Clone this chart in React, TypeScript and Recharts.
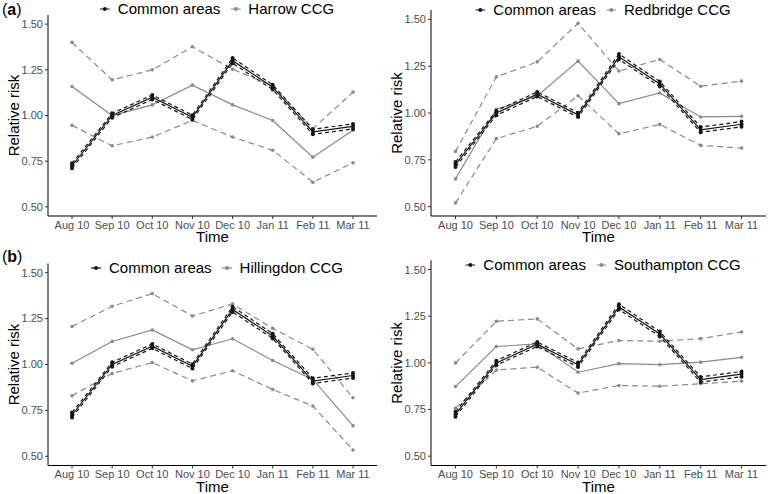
import { LineChart, Line, XAxis, YAxis } from 'recharts';

const months = ['Aug 10', 'Sep 10', 'Oct 10', 'Nov 10', 'Dec 10', 'Jan 11', 'Feb 11', 'Mar 11'];
const yTicks = [0.5, 0.75, 1.0, 1.25, 1.5];

// common areas (same in every panel)
const commonEst = [0.725, 1.0, 1.1, 0.99, 1.3, 1.155, 0.91, 0.94];
const commonUpper = [0.738, 1.012, 1.112, 1.002, 1.315, 1.168, 0.925, 0.954];
const commonLower = [0.712, 0.988, 1.088, 0.978, 1.286, 1.142, 0.897, 0.926];

const harrowEst = [1.159, 1.0, 1.058, 1.166, 1.058, 0.973, 0.772, 0.919];
const harrowUpper = [1.4, 1.195, 1.25, 1.376, 1.253, 1.163, 0.928, 1.128];
const harrowLower = [0.946, 0.834, 0.882, 0.973, 0.882, 0.81, 0.635, 0.741];

const redbridgeEst = [0.648, 1.02, 1.091, 1.277, 1.05, 1.107, 0.979, 0.982];
const redbridgeUpper = [0.795, 1.193, 1.273, 1.479, 1.224, 1.286, 1.143, 1.17];
const redbridgeLower = [0.52, 0.863, 0.929, 1.092, 0.889, 0.939, 0.827, 0.813];

const hillingdonEst = [1.007, 1.125, 1.188, 1.08, 1.14, 1.022, 0.919, 0.667];
const hillingdonUpper = [1.207, 1.317, 1.386, 1.264, 1.33, 1.197, 1.083, 0.819];
const hillingdonLower = [0.83, 0.951, 1.011, 0.911, 0.966, 0.864, 0.774, 0.534];

const southamptonEst = [0.873, 1.088, 1.102, 0.95, 0.996, 0.991, 1.004, 1.03];
const southamptonUpper = [1.0, 1.223, 1.236, 1.075, 1.12, 1.116, 1.13, 1.166];
const southamptonLower = [0.757, 0.962, 0.977, 0.838, 0.879, 0.875, 0.888, 0.902];

const GREY = '#8a8a8a';
const DARK = '#151515';
const FONT = '"Liberation Sans", Arial, Helvetica, sans-serif';

function makeRows(est: number[], lower: number[], upper: number[]) {
  return months.map((m, i) => ({
    month: m,
    cEst: commonEst[i],
    cLow: commonLower[i],
    cUp: commonUpper[i],
    rEst: est[i],
    rLow: lower[i],
    rUp: upper[i],
  }));
}

function LegendKey({ color }: { color: string }) {
  return (
    <svg width={10} height={10} style={{ marginRight: 8 }}>
      <line x1={0} y1={5} x2={10} y2={5} stroke={color} strokeWidth={1.2} />
      <circle cx={5} cy={5} r={2} fill={color} />
    </svg>
  );
}

interface PanelProps {
  name: string;
  rows: ReturnType<typeof makeRows>;
  left: number;
  top: number;
  width: number;
  marginTop: number;
  marginRight: number;
  yWidth: number;
  xHeight: number;
  pad: number;
  timeOffset: number;
  yLabelOffset: number;
  legendX: number;
  legendTop: number;
  tag?: string;
}

function Panel(p: PanelProps) {
  const dash = { r: 1.8, fill: GREY, stroke: 'none' };
  const dark = { r: 2, fill: DARK, stroke: 'none' };
  return (
    <div style={{ position: 'absolute', left: p.left, top: p.top, width: p.width, height: 247 }}>
      <LineChart
        width={p.width}
        height={247}
        data={p.rows}
        margin={{ top: p.marginTop, right: p.marginRight, bottom: 0, left: 0 }}
      >
        <XAxis
          dataKey="month"
          interval={0}
          padding={{ left: p.pad, right: p.pad }}
          height={p.xHeight}
          tickSize={3}
          tickMargin={2}
          axisLine={{ stroke: '#000', strokeWidth: 1 }}
          tickLine={{ stroke: '#333' }}
          tick={{ fontSize: 11, fill: '#4d4d4d' }}
          label={{ value: 'Time', position: 'insideBottom', offset: p.timeOffset, style: { fontSize: 15, fill: '#000' } }}
        />
        <YAxis
          type="number"
          domain={[0.45, 1.55]}
          ticks={yTicks}
          width={p.yWidth}
          tickSize={3}
          tickMargin={2}
          tickFormatter={(v: number) => v.toFixed(2)}
          axisLine={{ stroke: '#000', strokeWidth: 1 }}
          tickLine={{ stroke: '#333' }}
          tick={{ fontSize: 11, fill: '#4d4d4d' }}
          label={{
            value: 'Relative risk',
            angle: -90,
            position: 'insideLeft',
            offset: p.yLabelOffset,
            style: { fontSize: 15, fill: '#000', textAnchor: 'middle' },
          }}
        />
        <Line dataKey="rUp" stroke={GREY} strokeWidth={1.2} strokeDasharray="6 4" dot={dash} isAnimationActive={false} />
        <Line dataKey="rLow" stroke={GREY} strokeWidth={1.2} strokeDasharray="6 4" dot={dash} isAnimationActive={false} />
        <Line dataKey="rEst" stroke={GREY} strokeWidth={1.2} dot={dash} isAnimationActive={false} />
        <Line dataKey="cUp" stroke={DARK} strokeWidth={1.2} strokeDasharray="4 3" dot={dark} isAnimationActive={false} />
        <Line dataKey="cLow" stroke={DARK} strokeWidth={1.2} strokeDasharray="4 3" dot={dark} isAnimationActive={false} />
        <Line dataKey="cEst" stroke={DARK} strokeWidth={1.2} dot={dark} isAnimationActive={false} />
      </LineChart>
      <div
        style={{
          position: 'absolute',
          left: p.legendX,
          top: p.legendTop,
          transform: 'translateX(-50%)',
          display: 'flex',
          alignItems: 'center',
          whiteSpace: 'nowrap',
          fontSize: 15,
          lineHeight: '16px',
          color: '#000',
        }}
      >
        <LegendKey color={DARK} />
        <span style={{ marginRight: 10 }}>Common areas</span>
        <LegendKey color={GREY} />
        <span>{p.name}</span>
      </div>
      {p.tag && (
        <div style={{ position: 'absolute', left: 2, top: 1, fontSize: 16, lineHeight: '18px' }}>
          (<b>{p.tag}</b>)
        </div>
      )}
    </div>
  );
}

export default function App() {
  return (
    <div
      style={{
        position: 'absolute',
        left: 0,
        top: 0,
        width: 769,
        height: 494,
        background: '#fff',
        fontFamily: FONT,
        overflow: 'hidden',
      }}
    >
      <Panel
        name="Harrow CCG"
        rows={makeRows(harrowEst, harrowLower, harrowUpper)}
        left={0}
        top={0}
        width={385}
        marginTop={15}
        marginRight={8}
        yWidth={48}
        xHeight={31}
        pad={24}
        timeOffset={5}
        yLabelOffset={14}
        legendX={217}
        legendTop={1}
        tag="a"
      />
      <Panel
        name="Redbridge CCG"
        rows={makeRows(redbridgeEst, redbridgeLower, redbridgeUpper)}
        left={385}
        top={0}
        width={384}
        marginTop={10}
        marginRight={3}
        yWidth={46}
        xHeight={31}
        pad={24.5}
        timeOffset={5}
        yLabelOffset={12}
        legendX={218}
        legendTop={2}
      />
      <Panel
        name="Hillingdon CCG"
        rows={makeRows(hillingdonEst, hillingdonLower, hillingdonUpper)}
        left={0}
        top={247}
        width={385}
        marginTop={16.5}
        marginRight={8}
        yWidth={48}
        xHeight={28.5}
        pad={24}
        timeOffset={2}
        yLabelOffset={14}
        legendX={217}
        legendTop={13}
        tag="b"
      />
      <Panel
        name="Southampton CCG"
        rows={makeRows(southamptonEst, southamptonLower, southamptonUpper)}
        left={385}
        top={247}
        width={384}
        marginTop={13.3}
        marginRight={3}
        yWidth={46}
        xHeight={28.5}
        pad={24.5}
        timeOffset={2}
        yLabelOffset={12}
        legendX={218}
        legendTop={9.5}
      />
    </div>
  );
}
